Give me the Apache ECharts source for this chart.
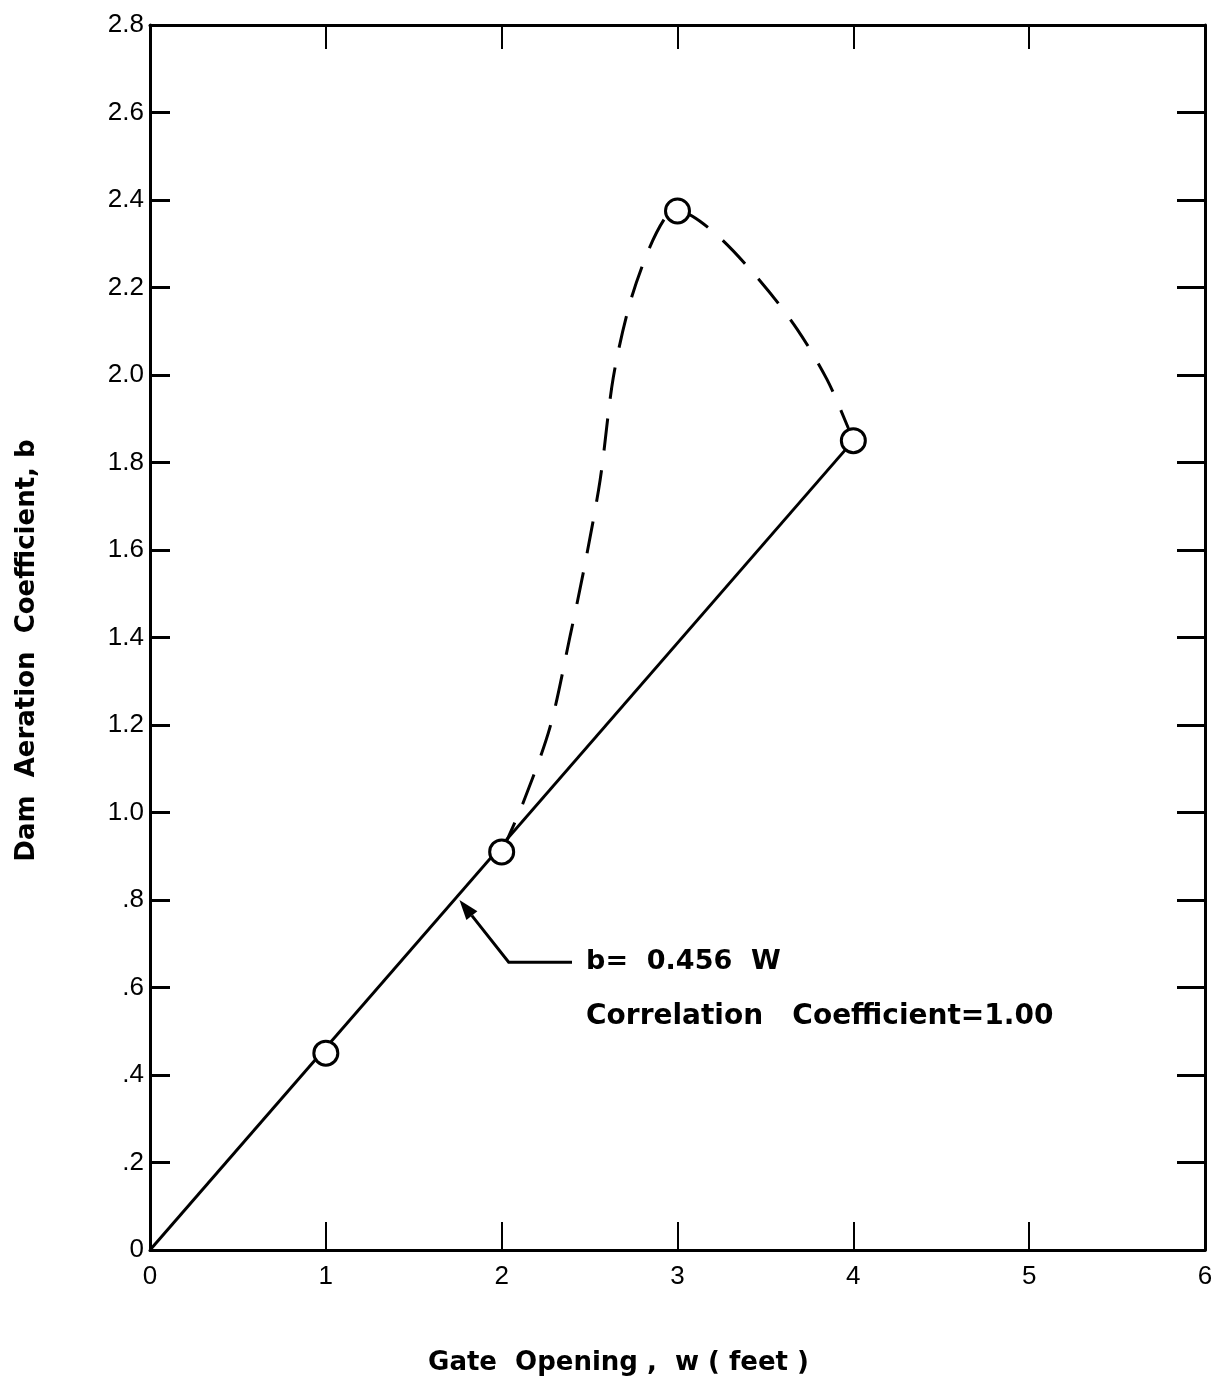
<!DOCTYPE html>
<html>
<head>
<meta charset="utf-8">
<script src="https://cdn.jsdelivr.net/npm/echarts@6/dist/echarts.min.js"></script>
<style>
  html, body { margin: 0; padding: 0; background: #fff; }
  #chart { width: 1217px; height: 1384px; }
</style>
</head>
<body>
<div id="chart"></div>
<script>
// ---- data ----
const xTicks = [0, 1, 2, 3, 4, 5, 6];
const yTickLabels = ['0', '.2', '.4', '.6', '.8', '1.0', '1.2', '1.4', '1.6', '1.8', '2.0', '2.2', '2.4', '2.6', '2.8'];
const obsW = [1, 2, 3, 4];
const obsB = [0.45, 0.91, 2.375, 1.85];
const fitW = [0, 4];
const fitB = [0, 1.85];
const curveW = [2.0, 2.12, 2.275, 2.39, 2.47, 2.56, 2.635, 2.73, 2.84, 2.94, 3.0, 3.21, 3.47, 3.68, 3.85, 3.97, 4.0];
const curveB = [0.91, 1.02, 1.195, 1.405, 1.56, 1.76, 1.995, 2.165, 2.29, 2.365, 2.375, 2.325, 2.215, 2.105, 1.99, 1.88, 1.85];
const arrowPath = [[1.76, 0.80], [2.04, 0.658], [2.4, 0.658]];
const noteLines = ['b=  0.456  W', 'Correlation   Coefficient=1.00'];
const notePos = [[2.48, 0.658], [2.48, 0.533]];
const xTitle = 'Gate  Opening ,  w ( feet )';
const yTitle = 'Dam  Aeration  Coefficient, b';

const zip = (a, b) => a.map((v, i) => [v, b[i]]);

const chart = echarts.init(document.getElementById('chart'));
const tickFont = { fontFamily: 'Liberation Sans', fontSize: 26, color: '#000' };
const boldFont = { fontFamily: 'DejaVu Sans', fontWeight: 'bold', fontSize: 26, color: '#000' };
const axisLine = { show: true, onZero: false, lineStyle: { color: '#000', width: 3 } };

chart.setOption({
  animation: false,
  backgroundColor: '#fff',
  grid: { left: 150, right: 12, top: 25, bottom: 134 },
  xAxis: [
    {
      type: 'value', min: 0, max: 6, interval: 1, position: 'bottom',
      axisLine: axisLine,
      axisTick: { show: true, inside: true, length: 28, lineStyle: { color: '#000', width: 2 } },
      axisLabel: Object.assign({ margin: 14 }, tickFont),
      splitLine: { show: false },
      name: xTitle, nameLocation: 'middle', nameGap: 100,
      nameTextStyle: Object.assign({ padding: [0, 118, 0, 0] }, boldFont)
    },
    {
      type: 'value', min: 0, max: 6, interval: 1, position: 'top',
      axisLine: axisLine,
      axisTick: { show: true, inside: true, length: 24, lineStyle: { color: '#000', width: 2 } },
      axisLabel: { show: false },
      splitLine: { show: false }
    }
  ],
  yAxis: [
    {
      type: 'value', min: 0, max: 2.8, interval: 0.2, position: 'left',
      axisLine: axisLine,
      axisTick: { show: true, inside: true, length: 20, lineStyle: { color: '#000', width: 3 } },
      axisLabel: Object.assign({ margin: 6, formatter: (v) => yTickLabels[Math.round(v / 0.2)] }, tickFont),
      splitLine: { show: false },
      name: yTitle, nameLocation: 'middle', nameGap: 110, nameRotate: 90,
      nameTextStyle: Object.assign({ padding: [0, 26, 0, 0] }, boldFont)
    },
    {
      type: 'value', min: 0, max: 2.8, interval: 0.2, position: 'right',
      axisLine: axisLine,
      axisTick: { show: true, inside: true, length: 28, lineStyle: { color: '#000', width: 3 } },
      axisLabel: { show: false },
      splitLine: { show: false }
    }
  ],
  series: [
    {
      type: 'line', data: zip(fitW, fitB), showSymbol: false, symbol: 'none',
      lineStyle: { color: '#000', width: 3 }, z: 2
    },
    {
      type: 'line', data: zip(curveW, curveB), showSymbol: false, symbol: 'none', smooth: 0.3,
      lineStyle: { color: '#000', width: 3, type: [32, 20] }, z: 2
    },
    {
      type: 'scatter', data: zip(obsW, obsB), symbol: 'circle', symbolSize: 24,
      itemStyle: { color: '#fff', borderColor: '#000', borderWidth: 3, opacity: 1 }, z: 5
    }
  ]
});

// annotation (positioned through the chart's own scales)
const px = arrowPath.map(p => chart.convertToPixel({ gridIndex: 0 }, p));
const tip = px[0], bend = px[1];
const dx = tip[0] - bend[0], dy = tip[1] - bend[1];
const len = Math.sqrt(dx * dx + dy * dy);
const ux = dx / len, uy = dy / len;
const ah = 20, aw = 7;
const base = [tip[0] - ux * ah, tip[1] - uy * ah];
const head = [tip, [base[0] - uy * aw, base[1] + ux * aw], [base[0] + uy * aw, base[1] - ux * aw]];
const graphics = [
  { type: 'polyline', shape: { points: [base].concat(px.slice(1)) }, style: { stroke: '#000', lineWidth: 3, fill: null } },
  { type: 'polygon', shape: { points: head }, style: { fill: '#000' } }
];
noteLines.forEach((t, i) => {
  const p = chart.convertToPixel({ gridIndex: 0 }, notePos[i]);
  graphics.push({
    type: 'text', x: p[0], y: p[1],
    style: { text: t, fontFamily: 'DejaVu Sans', fontWeight: 'bold', fontSize: i === 0 ? 27 : 28, fill: '#000', textVerticalAlign: 'middle', textAlign: 'left' }
  });
});
chart.setOption({ graphic: graphics });
</script>
</body>
</html>
